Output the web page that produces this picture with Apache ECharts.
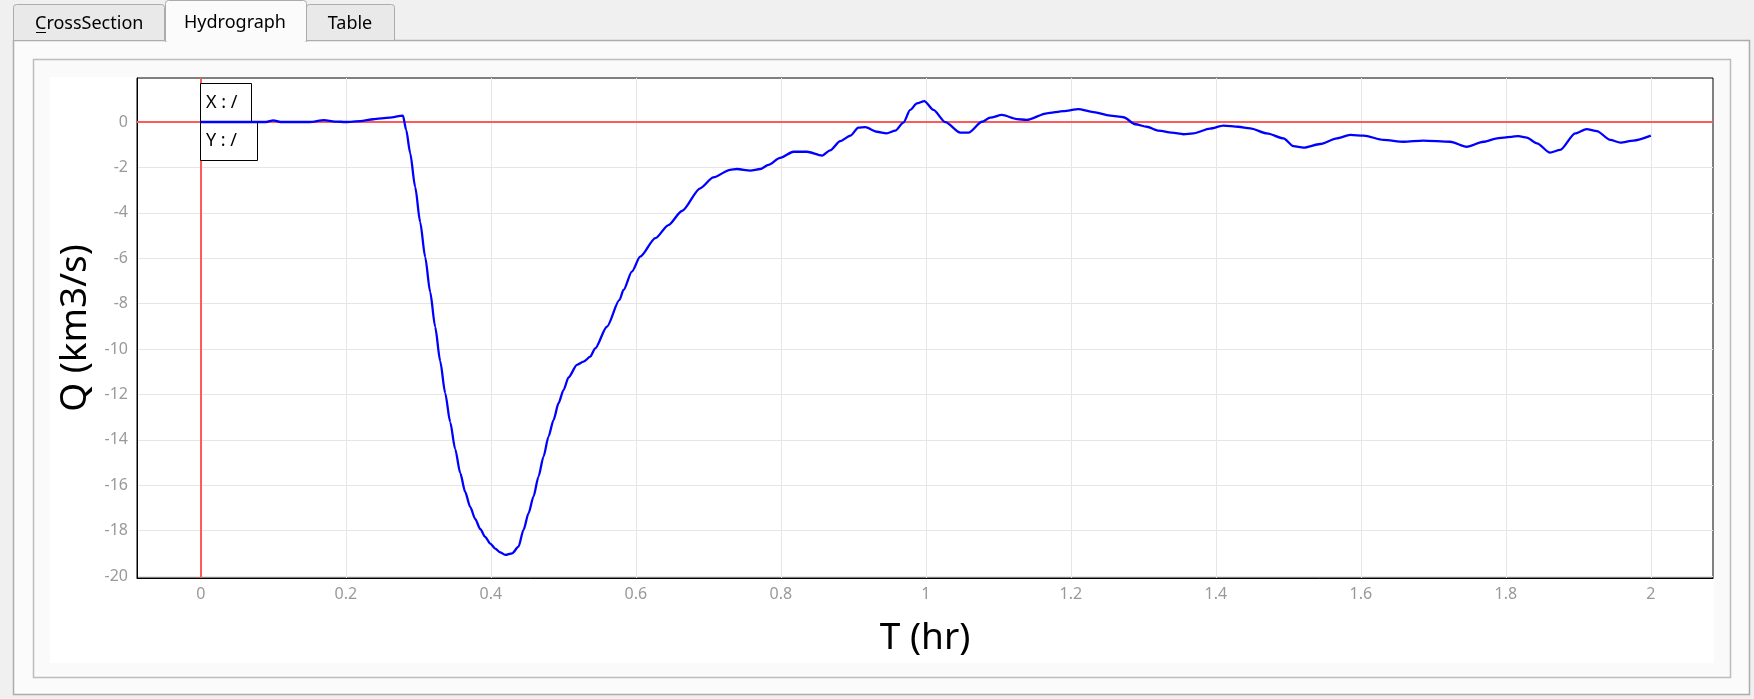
<!DOCTYPE html>
<html><head><meta charset="utf-8">
<script src="https://cdn.jsdelivr.net/npm/echarts@6/dist/echarts.min.js"></script>
<style>html,body{margin:0;padding:0;background:#f0f0f0;overflow:hidden}#c{width:1754px;height:699px}</style>
</head><body><div id="c"></div>
<script>
// ---- data ----
const timeHr = [0.000,0.050,0.090,0.100,0.110,0.150,0.170,0.185,0.200,0.220,0.238,0.260,0.2788,0.2833,0.2888,0.2957,0.3026,0.3095,0.3164,0.3233,0.3302,0.3371,0.3440,0.3509,0.3578,0.3647,0.3716,0.3785,0.3854,0.3923,0.3992,0.4061,0.4130,0.4199,0.4295,0.4382,0.4451,0.4520,0.4589,0.4658,0.4727,0.4796,0.4865,0.4934,0.5003,0.5072,0.5188,0.5279,0.5371,0.5440,0.5601,0.5775,0.583,0.5946,0.606,0.627,0.645,0.6636,0.6888,0.707,0.730,0.7395,0.758,0.7716,0.783,0.799,0.8175,0.836,0.857,0.868,0.882,0.896,0.907,0.9165,0.9326,0.946,0.958,0.969,0.9785,0.9877,0.998,1.0106,1.027,1.0475,1.059,1.0775,1.0888,1.105,1.1257,1.139,1.167,1.190,1.2106,1.229,1.2543,1.2727,1.289,1.305,1.321,1.3395,1.3555,1.369,1.392,1.4106,1.431,1.4474,1.4705,1.4934,1.507,1.521,1.544,1.567,1.5854,1.604,1.6313,1.659,1.686,1.7233,1.746,1.7693,1.788,1.8175,1.829,1.843,1.861,1.875,1.8957,1.9115,1.9257,1.944,1.958,1.976,2.000];
const flowQ = [0,0,0,0.07,0,0,0.08,0.02,0,0.04,0.12,0.19,0.28,-0.35,-1.37,-2.86,-4.41,-5.95,-7.49,-9.03,-10.53,-11.94,-13.22,-14.41,-15.46,-16.30,-16.96,-17.49,-17.93,-18.28,-18.57,-18.79,-18.96,-19.07,-19.0,-18.71,-17.97,-17.24,-16.50,-15.62,-14.74,-13.86,-13.13,-12.39,-11.81,-11.25,-10.70,-10.56,-10.34,-9.97,-9.02,-7.84,-7.4,-6.59,-5.93,-5.12,-4.54,-3.92,-2.92,-2.44,-2.11,-2.07,-2.14,-2.07,-1.89,-1.58,-1.31,-1.31,-1.48,-1.25,-0.84,-0.60,-0.25,-0.23,-0.43,-0.50,-0.38,-0.03,0.53,0.82,0.92,0.53,-0.01,-0.47,-0.47,0.01,0.19,0.31,0.13,0.09,0.38,0.48,0.57,0.45,0.28,0.21,-0.10,-0.21,-0.38,-0.47,-0.54,-0.50,-0.29,-0.16,-0.21,-0.28,-0.50,-0.72,-1.06,-1.13,-0.97,-0.72,-0.57,-0.60,-0.79,-0.87,-0.82,-0.87,-1.09,-0.87,-0.72,-0.62,-0.69,-0.94,-1.35,-1.23,-0.50,-0.31,-0.40,-0.79,-0.91,-0.82,-0.60];
const xTicks = [0,0.2,0.4,0.6,0.8,1,1.2,1.4,1.6,1.8,2];
const yTicks = [0,-2,-4,-6,-8,-10,-12,-14,-16,-18,-20];
const tabLabels = ['CrossSection','Hydrograph','Table'];
const xTitle = 'T (hr)';
const yTitle = 'Q (km3/s)';
const cursorLabels = ['X : /','Y : /'];

const FF = "'Segoe UI','Noto Sans','Open Sans',sans-serif";
const chart = echarts.init(document.getElementById('c'), null, {renderer:'canvas'});

const graphicEls = [
  // tab pane
  {type:'rect', z:-20, shape:{x:13.5,y:40.5,width:1736,height:654}, style:{fill:'#fbfbfb',stroke:'#acacac',lineWidth:1.5}},
  // group frame
  {type:'rect', z:-19, shape:{x:33.5,y:59.5,width:1697,height:618}, style:{fill:'#fafafa',stroke:'#bdbdbd',lineWidth:1.5}},
  // chart background
  {type:'rect', z:-18, shape:{x:50,y:77,width:1664,height:586}, style:{fill:'#ffffff'}},
  // tabs
  {type:'rect', z:-17, shape:{x:13.5,y:4.5,width:151,height:36,r:[3,3,0,0]}, style:{fill:'#e9e9e9',stroke:'#acacac',lineWidth:1}},
  {type:'rect', z:-17, shape:{x:306.5,y:4.5,width:88,height:36,r:[3,3,0,0]}, style:{fill:'#e9e9e9',stroke:'#acacac',lineWidth:1}},
  {type:'rect', z:-16, shape:{x:165.5,y:0.5,width:141,height:41,r:[3,3,0,0]}, style:{fill:'#fbfbfb',stroke:'#acacac',lineWidth:1}},
  {type:'rect', z:-15, shape:{x:166.5,y:39,width:139,height:3}, style:{fill:'#fbfbfb'}},
  {type:'text', z:-14, x:35, y:24, style:{text:tabLabels[0],fontSize:18,fontFamily:FF,fill:'#000',align:'left',verticalAlign:'middle'}},
  {type:'line', z:-14, shape:{x1:36,y1:32.5,x2:46,y2:32.5}, style:{stroke:'#000',lineWidth:1}},
  {type:'text', z:-14, x:235, y:22.5, style:{text:tabLabels[1],fontSize:18,fontFamily:FF,fill:'#000',align:'center',verticalAlign:'middle'}},
  {type:'text', z:-14, x:350, y:24, style:{text:tabLabels[2],fontSize:18,fontFamily:FF,fill:'#000',align:'center',verticalAlign:'middle'}},
  // cursor readout boxes
  {type:'rect', z:2, shape:{x:200.5,y:83.5,width:51,height:38.5}, style:{fill:'#ffffff',stroke:'#000',lineWidth:1}},
  {type:'text', z:2, x:206, y:103, style:{text:cursorLabels[0],fontSize:18,fontFamily:FF,fill:'#000',align:'left',verticalAlign:'middle'}},
  {type:'rect', z:2, shape:{x:200.5,y:122,width:57,height:38.5}, style:{fill:'#ffffff',stroke:'#000',lineWidth:1}},
  {type:'text', z:2, x:206, y:141, style:{text:cursorLabels[1],fontSize:18,fontFamily:FF,fill:'#000',align:'left',verticalAlign:'middle'}}
];

const option = {
  animation:false,
  backgroundColor:'#f0f0f0',
  graphic:{elements:graphicEls},
  grid:{left:137,top:78,width:1576,height:500,show:true,borderColor:'#000',borderWidth:1,backgroundColor:'#ffffff',containLabel:false},
  xAxis:{
    type:'value', min:-0.088, max:2.0858,
    axisLine:{show:true,onZero:false,lineStyle:{color:'#000',width:1}},
    axisTick:{show:false,customValues:xTicks},
    axisLabel:{customValues:xTicks,formatter:v=>String(Math.round(v*10)/10),color:'#999',fontSize:16,fontFamily:FF,margin:8},
    splitLine:{show:true,lineStyle:{color:'#e6e6e6',width:1}},
    name:xTitle, nameLocation:'middle', nameGap:42,
    nameTextStyle:{fontSize:37,color:'#000',fontFamily:FF}
  },
  yAxis:{
    type:'value', min:-20.088, max:1.938,
    axisLine:{show:true,onZero:false,lineStyle:{color:'#000',width:1}},
    axisTick:{show:false,customValues:yTicks},
    axisLabel:{customValues:yTicks,color:'#999',fontSize:16,fontFamily:FF,margin:9},
    splitLine:{show:true,lineStyle:{color:'#e6e6e6',width:1}},
    name:yTitle, nameLocation:'middle', nameGap:43,
    nameTextStyle:{fontSize:37,color:'#000',fontFamily:FF}
  },
  series:[{
    type:'line',
    data:timeHr.map((t,i)=>[t,flowQ[i]]),
    symbol:'none', showSymbol:false,
    smooth:0.25, smoothMonotone:'x',
    lineStyle:{color:'#0000ff',width:2.3},
    z:3,
    markLine:{
      silent:true, z:1, symbol:['none','none'], label:{show:false},
      lineStyle:{color:'#ff5a5a',width:2,type:'solid'},
      emphasis:{disabled:true},
      data:[{yAxis:0},{xAxis:0}]
    }
  }]
};
chart.setOption(option);
</script></body></html>
